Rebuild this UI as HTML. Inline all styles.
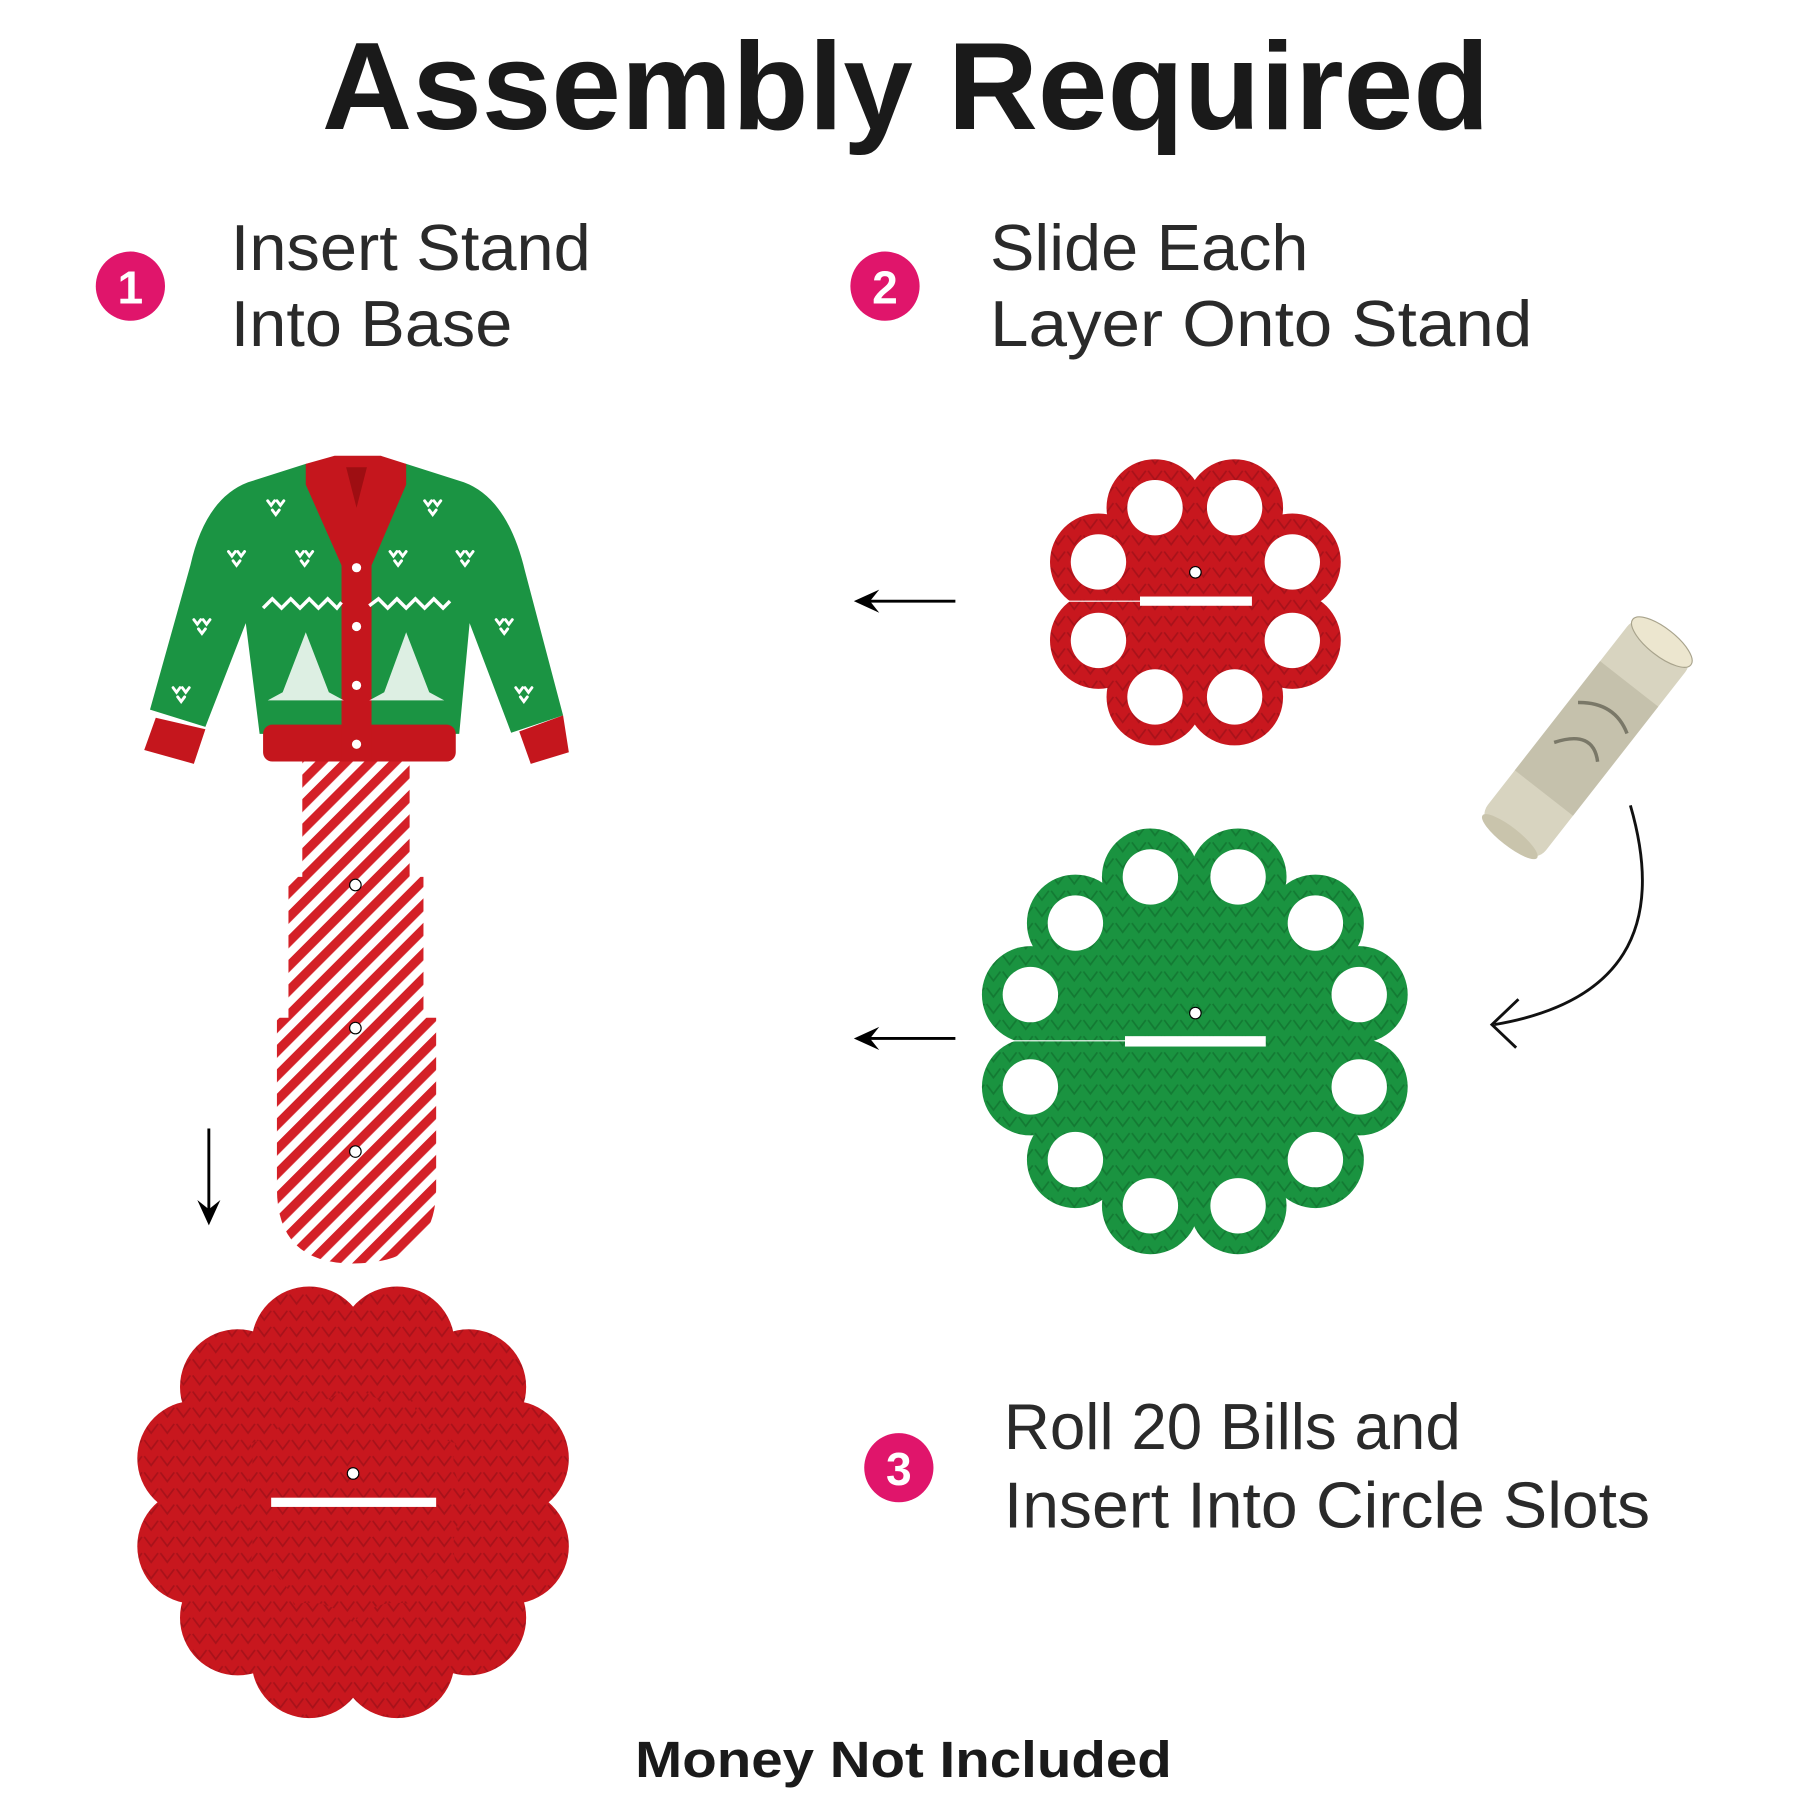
<!DOCTYPE html>
<html><head><meta charset="utf-8"><style>
html,body{margin:0;padding:0;background:#fff;}
svg{display:block;}
text{font-family:"Liberation Sans",sans-serif;}
</style></head><body>
<svg width="1800" height="1800" viewBox="0 0 1560 1560" xmlns="http://www.w3.org/2000/svg">
<defs>
<pattern id="stripe" width="15" height="15" patternUnits="userSpaceOnUse" patternTransform="rotate(45)">
<rect width="15" height="15" fill="#fff"/><rect width="8" height="15" fill="#d42027"/>
</pattern>
<pattern id="knitR" width="14" height="14" patternUnits="userSpaceOnUse">
<rect width="14" height="14" fill="#c8171e"/><path d="M1 2 L7 10 L13 2" fill="none" stroke="#a8121a" stroke-width="1.5"/>
</pattern>
<pattern id="knitG" width="14" height="14" patternUnits="userSpaceOnUse">
<rect width="14" height="14" fill="#1a9340"/><path d="M1 2 L7 10 L13 2" fill="none" stroke="#137a33" stroke-width="1.5"/>
</pattern>
</defs>
<rect width="1560" height="1560" fill="#fff"/>

<text x="785" y="112" font-size="108" font-weight="bold" fill="#1a1a1a" text-anchor="middle" textLength="1012" lengthAdjust="spacingAndGlyphs">Assembly Required</text>

<g fill="#e0156b"><circle cx="113" cy="248" r="30"/><circle cx="767" cy="248" r="30"/><circle cx="779" cy="1272" r="30"/></g>
<g fill="#fff" font-size="40" font-weight="bold" text-anchor="middle"><text x="113" y="263">1</text><text x="767" y="263">2</text><text x="779" y="1287">3</text></g>

<g fill="#2a2a2a" font-size="56">
<text x="200" y="234" textLength="312" lengthAdjust="spacingAndGlyphs">Insert Stand</text>
<text x="200" y="300" textLength="244" lengthAdjust="spacingAndGlyphs">Into Base</text>
<text x="858" y="234" textLength="276" lengthAdjust="spacingAndGlyphs">Slide Each</text>
<text x="858" y="300" textLength="470" lengthAdjust="spacingAndGlyphs">Layer Onto Stand</text>
<text x="870" y="1256" textLength="396" lengthAdjust="spacingAndGlyphs">Roll 20 Bills and</text>
<text x="870" y="1324" textLength="560" lengthAdjust="spacingAndGlyphs">Insert Into Circle Slots</text>
</g>
<text x="783" y="1540" font-size="44" font-weight="bold" fill="#1a1a1a" text-anchor="middle" textLength="465" lengthAdjust="spacingAndGlyphs">Money Not Included</text>

<path d="M262 660 H355 V760 H367 V882 H378 V1030 Q378 1095 306 1095 Q240 1095 240 1030 V882 H250 V760 H262 Z" fill="url(#stripe)"/>
<g fill="#fff" stroke="#000" stroke-width="1"><circle cx="308" cy="767" r="5"/><circle cx="308" cy="891" r="5"/><circle cx="308" cy="998" r="5"/></g>

<path d="M265 402 L215 418 Q178 432 165 490 L130 615 L178 630 L213 540 L225 636 L398 636 L407 540 L443 635 L488 620 L455 495 Q440 432 402 418 L352 402 Z" fill="#1b9443"/>
<path d="M125 650 L135 622 L178 632 L168 662 Z" fill="#c5161d"/>
<path d="M450 634 L488 620 L493 652 L460 662 Z" fill="#c5161d"/>
<rect x="228" y="628" width="167" height="32" rx="8" fill="#c5161d"/>
<path d="M265 402 L290 395 L330 395 L352 402 L352 420 L322 490 L322 660 L296 660 L296 490 L265 420 Z" fill="#c5161d"/>
<path d="M300 405 L318 405 L309 440 Z" fill="#9e0e12"/>
<g fill="#fff"><circle cx="309" cy="492" r="4"/><circle cx="309" cy="543" r="4"/><circle cx="309" cy="594" r="4"/><circle cx="309" cy="645" r="4"/></g>
<g fill="none" stroke="#fff" stroke-width="3">
<path d="M228 527 L236 519 L244 527 L252 519 L260 527 L268 519 L276 527 L284 519 L292 527 L296 522"/>
<path d="M320 525 L328 519 L336 527 L344 519 L352 527 L360 519 L368 527 L376 519 L384 527 L390 521"/>
</g>
<g fill="#fff">
<path d="M265 548 L285 600 L298 607 L232 607 L245 600 Z" opacity="0.85"/>
<path d="M352 548 L372 600 L385 607 L320 607 L333 600 Z" opacity="0.85"/>
</g>
<g fill="none" stroke="#fff" stroke-width="2.5" stroke-linecap="round">
<path d="M232 434 l3 4 l3 -4 M240 434 l3 4 l3 -4 M236 442 l3 4 l3 -4"/>
<path d="M368 434 l3 4 l3 -4 M376 434 l3 4 l3 -4 M372 442 l3 4 l3 -4"/>
<path d="M198 478 l3 4 l3 -4 M206 478 l3 4 l3 -4 M202 486 l3 4 l3 -4"/>
<path d="M257 478 l3 4 l3 -4 M265 478 l3 4 l3 -4 M261 486 l3 4 l3 -4"/>
<path d="M338 478 l3 4 l3 -4 M346 478 l3 4 l3 -4 M342 486 l3 4 l3 -4"/>
<path d="M396 478 l3 4 l3 -4 M404 478 l3 4 l3 -4 M400 486 l3 4 l3 -4"/>
<path d="M168 537 l3 4 l3 -4 M176 537 l3 4 l3 -4 M172 545 l3 4 l3 -4"/>
<path d="M430 537 l3 4 l3 -4 M438 537 l3 4 l3 -4 M434 545 l3 4 l3 -4"/>
<path d="M150 596 l3 4 l3 -4 M158 596 l3 4 l3 -4 M154 604 l3 4 l3 -4"/>
<path d="M447 596 l3 4 l3 -4 M455 596 l3 4 l3 -4 M451 604 l3 4 l3 -4"/>
</g>

<line x1="181" y1="978" x2="181" y2="1050" stroke="#000" stroke-width="2.5"/>
<path d="M171 1040 L181 1062 L191 1040 L181 1048 Z" fill="#000"/>

<g fill="url(#knitR)">
<circle cx="306" cy="1302" r="150"/>
<g transform="translate(306 1302)">
<circle cx="-38" cy="-137" r="50"/><circle cx="38" cy="-137" r="50"/>
<circle cx="-100" cy="-100" r="50"/><circle cx="100" cy="-100" r="50"/>
<circle cx="-137" cy="-38" r="50"/><circle cx="137" cy="-38" r="50"/>
<circle cx="-137" cy="38" r="50"/><circle cx="137" cy="38" r="50"/>
<circle cx="-100" cy="100" r="50"/><circle cx="100" cy="100" r="50"/>
<circle cx="-38" cy="137" r="50"/><circle cx="38" cy="137" r="50"/>
</g></g>
<rect x="235" y="1298" width="143" height="8" fill="#fff"/>
<circle cx="306" cy="1277" r="5" fill="#fff" stroke="#000"/>

<g fill="url(#knitR)">
<circle cx="1036" cy="522" r="95"/>
<circle cx="1001" cy="440" r="42"/><circle cx="1070" cy="440" r="42"/>
<circle cx="952" cy="487" r="42"/><circle cx="1120" cy="487" r="42"/>
<circle cx="952" cy="555" r="42"/><circle cx="1120" cy="555" r="42"/>
<circle cx="1001" cy="604" r="42"/><circle cx="1070" cy="604" r="42"/>
</g>
<g fill="#fff">
<circle cx="1001" cy="440" r="24"/><circle cx="1070" cy="440" r="24"/>
<circle cx="952" cy="487" r="24"/><circle cx="1120" cy="487" r="24"/>
<circle cx="952" cy="555" r="24"/><circle cx="1120" cy="555" r="24"/>
<circle cx="1001" cy="604" r="24"/><circle cx="1070" cy="604" r="24"/>
<rect x="988" y="517" width="97" height="8"/>
</g>
<line x1="918" y1="521" x2="988" y2="521" stroke="#fff" stroke-width="1"/>
<circle cx="1036" cy="496" r="5" fill="#fff" stroke="#000"/>

<g fill="url(#knitG)">
<circle cx="1036" cy="902" r="150"/>
<circle cx="997" cy="760" r="42"/><circle cx="1073" cy="760" r="42"/>
<circle cx="932" cy="800" r="42"/><circle cx="1140" cy="800" r="42"/>
<circle cx="893" cy="862" r="42"/><circle cx="1178" cy="862" r="42"/>
<circle cx="893" cy="942" r="42"/><circle cx="1178" cy="942" r="42"/>
<circle cx="932" cy="1005" r="42"/><circle cx="1140" cy="1005" r="42"/>
<circle cx="997" cy="1045" r="42"/><circle cx="1073" cy="1045" r="42"/>
</g>
<g fill="#fff">
<circle cx="997" cy="760" r="24"/><circle cx="1073" cy="760" r="24"/>
<circle cx="932" cy="800" r="24"/><circle cx="1140" cy="800" r="24"/>
<circle cx="893" cy="862" r="24"/><circle cx="1178" cy="862" r="24"/>
<circle cx="893" cy="942" r="24"/><circle cx="1178" cy="942" r="24"/>
<circle cx="932" cy="1005" r="24"/><circle cx="1140" cy="1005" r="24"/>
<circle cx="997" cy="1045" r="24"/><circle cx="1073" cy="1045" r="24"/>
<rect x="975" y="898" width="122" height="9"/>
</g>
<line x1="850" y1="902" x2="975" y2="902" stroke="#fff" stroke-width="1"/>
<circle cx="1036" cy="878" r="5" fill="#fff" stroke="#000"/>

<line x1="750" y1="521" x2="828" y2="521" stroke="#000" stroke-width="2.5"/>
<path d="M740 521 L762 511 L754 521 L762 531 Z" fill="#000"/>
<line x1="750" y1="900" x2="828" y2="900" stroke="#000" stroke-width="2.5"/>
<path d="M740 900 L762 890 L754 900 L762 910 Z" fill="#000"/>

<path d="M1413 698 Q1460 860 1295 888" fill="none" stroke="#111" stroke-width="2.5"/>
<path d="M1316 866 L1293 888 L1314 908" fill="none" stroke="#111" stroke-width="2.5"/>

<g transform="translate(1375 640) rotate(-52)">
<rect x="-112" y="-32" width="224" height="64" rx="14" fill="#d8d4c0"/>
<rect x="-60" y="-32" width="120" height="64" fill="#bdb9a4" opacity="0.7"/>
<path d="M-20 -20 Q10 0 -10 20 M20 -25 Q40 0 25 25" stroke="#7a7868" stroke-width="3" fill="none"/>
<ellipse cx="106" cy="0" rx="12" ry="32" fill="#ece6cf" stroke="#a8a38c"/>
<ellipse cx="-108" cy="0" rx="8" ry="30" fill="#c9c4ac"/>
</g>
</svg>
</body></html>
